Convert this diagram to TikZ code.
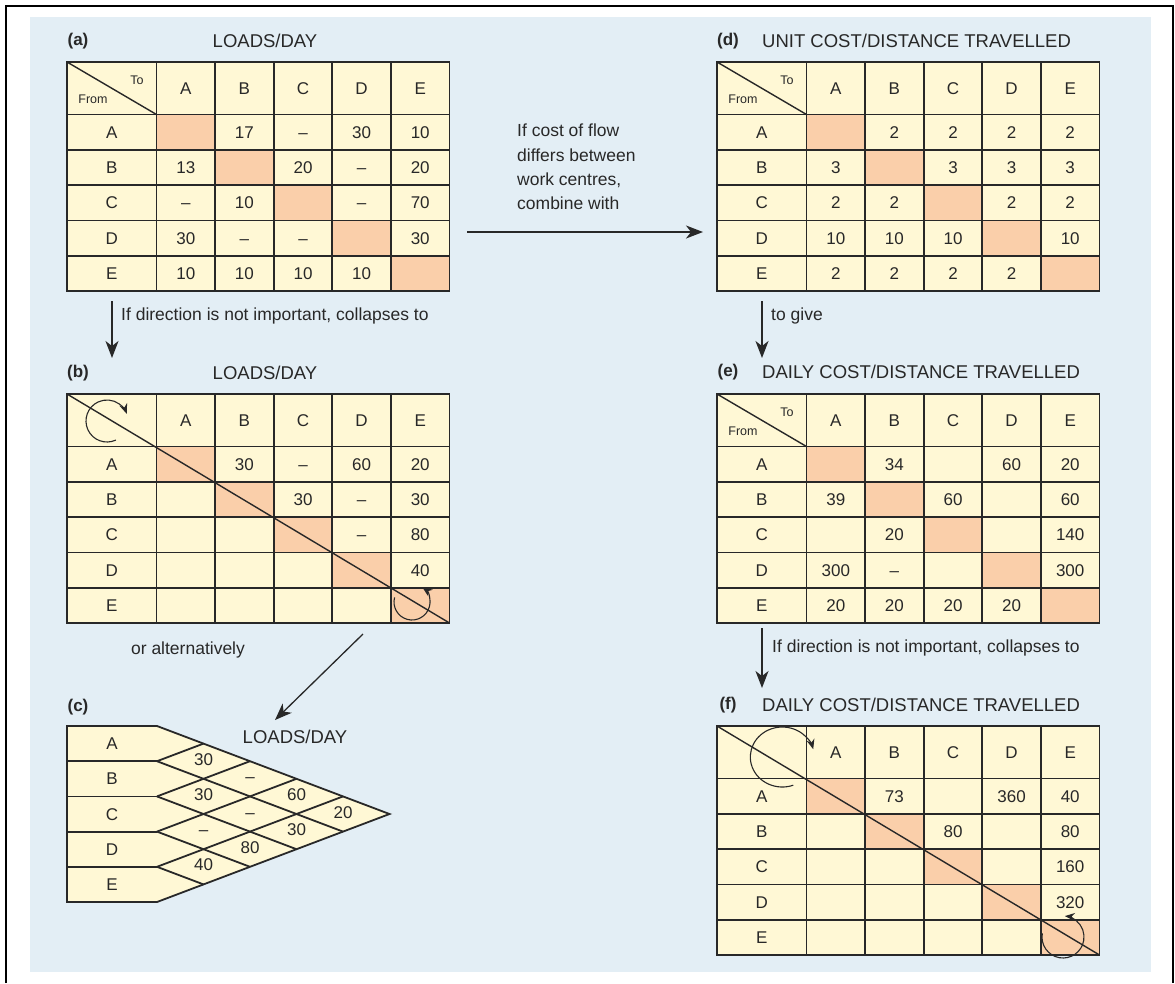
\documentclass[tikz,border=0pt]{standalone}
\usepackage{fontspec}
\setmainfont{Liberation Sans}
\usetikzlibrary{arrows.meta}

\definecolor{bgblue}{RGB}{227,238,245}
\definecolor{cream}{RGB}{255,248,213}
\definecolor{peach}{RGB}{250,207,170}
\definecolor{ink}{RGB}{40,40,40}

\tikzset{
  gridline/.style={draw=ink,line width=1.8pt},
  lbl/.style={font=\fontsize{17}{17}\selectfont,text=ink,inner sep=0pt,text height=12.2pt,text depth=0pt},
  small/.style={font=\fontsize{12.5}{12.5}\selectfont,text=ink,inner sep=0pt},
  title/.style={font=\fontsize{18.5}{18.5}\selectfont,text=ink,inner sep=0pt},
  tag/.style={font=\bfseries\fontsize{17}{17}\selectfont,text=ink,inner sep=0pt},
  note/.style={font=\fontsize{17.5}{24.3}\selectfont,text=ink,inner sep=0pt,align=left},
  flow/.style={draw=ink,line width=1.3pt,-{Stealth[length=17pt,width=13pt,inset=5pt]}},
  turn/.style={draw=ink,line width=1.1pt,-{Stealth[length=10pt,width=8pt]}},
}

% from/to grid: #1 name, #2 left, #3 top, #4 rows
\newcommand{\fromtogrid}[4]{%
  \fill[cream] (#2,#3) rectangle ++(382.5,229);
  \foreach \k in {1,...,5}
    \fill[peach] (#2+89.5+\k*58.6-58.6,#3+52.5+\k*35.3-35.3) rectangle ++(58.6,35.3);
  \foreach \k in {0,...,5}{
    \draw[gridline] (#2+89.5+\k*58.6,#3) -- ++(0,229);
    \draw[gridline] (#2,#3+52.5+\k*35.3) -- ++(382.5,0);
  }
  \draw[gridline] (#2,#3) rectangle ++(382.5,229);
  \foreach \c [count=\j] in {A,B,C,D,E}{
    \node[lbl] (#1-h\j) at (#2+89.5+\j*58.6-29.3,#3+26.25) {\c};
    \node[lbl] (#1-r\j) at (#2+44.75,#3+52.5+\j*35.3-17.65) {\c};
  }
  \foreach \row [count=\i] in {#4}
    \foreach \v [count=\j] in \row
      \node[lbl] (#1-\i-\j) at (#2+89.5+\j*58.6-29.3,#3+52.5+\i*35.3-17.65) {\v};
}

% corner with To/From
\newcommand{\tofrom}[3]{%
  \draw[draw=ink,line width=1.4pt] (#2,#3) -- ++(89.5,52.5);
  \node[small] (#1-to) at (#2+70,#3+18) {To};
  \node[small] (#1-from) at (#2+26,#3+37) {From};
}

\begin{document}
\begin{tikzpicture}[x=1pt,y=-1pt]
\useasboundingbox (0,0) rectangle (1175,983);
\fill[white] (0,0) rectangle (1175,983);
\fill[bgblue] (30,17) rectangle (1151,972);
\draw[line width=2pt] (6,983) -- (6,6) -- (1173,6) -- (1173,983);

% (a)
\node[tag] (a-tag) at (78,41) {(a)};
\node[title] (a-title) at (265,41) {LOADS/DAY};
\fromtogrid{a}{67}{62}{{{},17,--,30,10},{13,{},20,--,20},{--,10,{},--,70},{30,--,--,{},30},{10,10,10,10,{}}}
\tofrom{a}{67}{62}

% (b)
\node[tag] (b-tag) at (78,373) {(b)};
\node[title] (b-title) at (265,373) {LOADS/DAY};
\fromtogrid{b}{67}{394}{{{},30,--,60,20},{{},{},30,--,30},{{},{},{},--,80},{{},{},{},{},40},{{},{},{},{},{}}}
\draw[draw=ink,line width=1.4pt] (67,394) -- ++(382.5,229);
\coordinate (b-spin) at (107,421);
\coordinate (b-spin2) at (412,602);
\draw[turn] (b-spin) ++(-65:21pt) arc[start angle=-65,end angle=-340,radius=21pt];
\draw[turn] (b-spin2) ++(165:18pt) arc[start angle=165,end angle=415,radius=18pt];

% (c)
\node[tag] (c-tag) at (78,707) {(c)};
\node[title] (c-title) at (295,737) {LOADS/DAY};
\draw[gridline,fill=cream] (67,726) -- (157,726) -- (389.5,814) -- (157,902) -- (67,902) -- cycle;
\foreach \k in {1,...,4}{
  \draw[gridline] (67,726+\k*35.2) -- (157,726+\k*35.2);
  \draw[gridline] (157,726+\k*35.2) -- ++(232.5-46.5*\k,88-17.6*\k);
  \draw[gridline] (157,726+\k*35.2) -- ++(46.5*\k,-17.6*\k);
}
\foreach \c [count=\i] in {A,B,C,D,E}
  \node[lbl] (c-r\i) at (112,726+\i*35.2-17.6) {\c};
\foreach \p/\q/\v in {1/2/30,1/3/--,1/4/60,1/5/20,2/3/30,2/4/--,2/5/30,3/4/--,3/5/80,4/5/40}
  \node[lbl] (c-\p\q) at (157+46.5*\q-46.5*\p,724+17.6*\p+17.6*\q-17.6) {\v};

% (d)
\node[tag] (d-tag) at (728,41) {(d)};
\node[title,anchor=west] (d-title) at (762,41) {UNIT COST/DISTANCE TRAVELLED};
\fromtogrid{d}{717}{62}{{{},2,2,2,2},{3,{},3,3,3},{2,2,{},2,2},{10,10,10,{},10},{2,2,2,2,{}}}
\tofrom{d}{717}{62}

% (e)
\node[tag] (e-tag) at (728,372) {(e)};
\node[title,anchor=west] (e-title) at (762,372) {DAILY COST/DISTANCE TRAVELLED};
\fromtogrid{e}{717}{394}{{{},34,{},60,20},{39,{},60,{},60},{{},20,{},{},140},{300,--,{},{},300},{20,20,20,20,{}}}
\tofrom{e}{717}{394}

% (f)
\node[tag] (f-tag) at (728,705) {(f)};
\node[title,anchor=west] (f-title) at (762,705) {DAILY COST/DISTANCE TRAVELLED};
\fromtogrid{f}{717}{726}{{{},73,{},360,40},{{},{},80,{},80},{{},{},{},{},160},{{},{},{},{},320},{{},{},{},{},{}}}
\draw[draw=ink,line width=1.4pt] (717,726) -- ++(382.5,229);
\coordinate (f-spin) at (783,757);
\coordinate (f-spin2) at (1063,937);
\draw[turn] (f-spin) ++(-70:30pt) arc[start angle=-70,end angle=-345,x radius=32pt,y radius=30pt];
\draw[turn] (f-spin2) ++(170:21pt) arc[start angle=170,end angle=445,radius=21pt];

% arrows between panels
\coordinate (a-down) at (112,301);
\coordinate (b-top) at (112,358);
\draw[flow] (a-down) -- (b-top);
\node[note,anchor=west] (n-ab) at (121,316) {If direction is not important, collapses to};

\coordinate (a-right) at (467,232);
\coordinate (d-left) at (703,232);
\draw[flow] (a-right) -- (d-left);
\node[note,anchor=north west] (n-ad) at (517,124) {If cost of flow\\differs between\\work centres,\\combine with};

\coordinate (b-out) at (363,634);
\coordinate (c-in) at (275,720);
\draw[flow] (b-out) -- (c-in);
\node[note] (n-bc) at (188,650) {or alternatively};

\coordinate (d-down) at (762,301);
\coordinate (e-top) at (762,358);
\draw[flow] (d-down) -- (e-top);
\node[note,anchor=west] (n-de) at (771,316) {to give};

\coordinate (e-down) at (762,628);
\coordinate (f-top) at (762,688);
\draw[flow] (e-down) -- (f-top);
\node[note,anchor=west] (n-ef) at (772,648) {If direction is not important, collapses to};
\end{tikzpicture}
\end{document}
